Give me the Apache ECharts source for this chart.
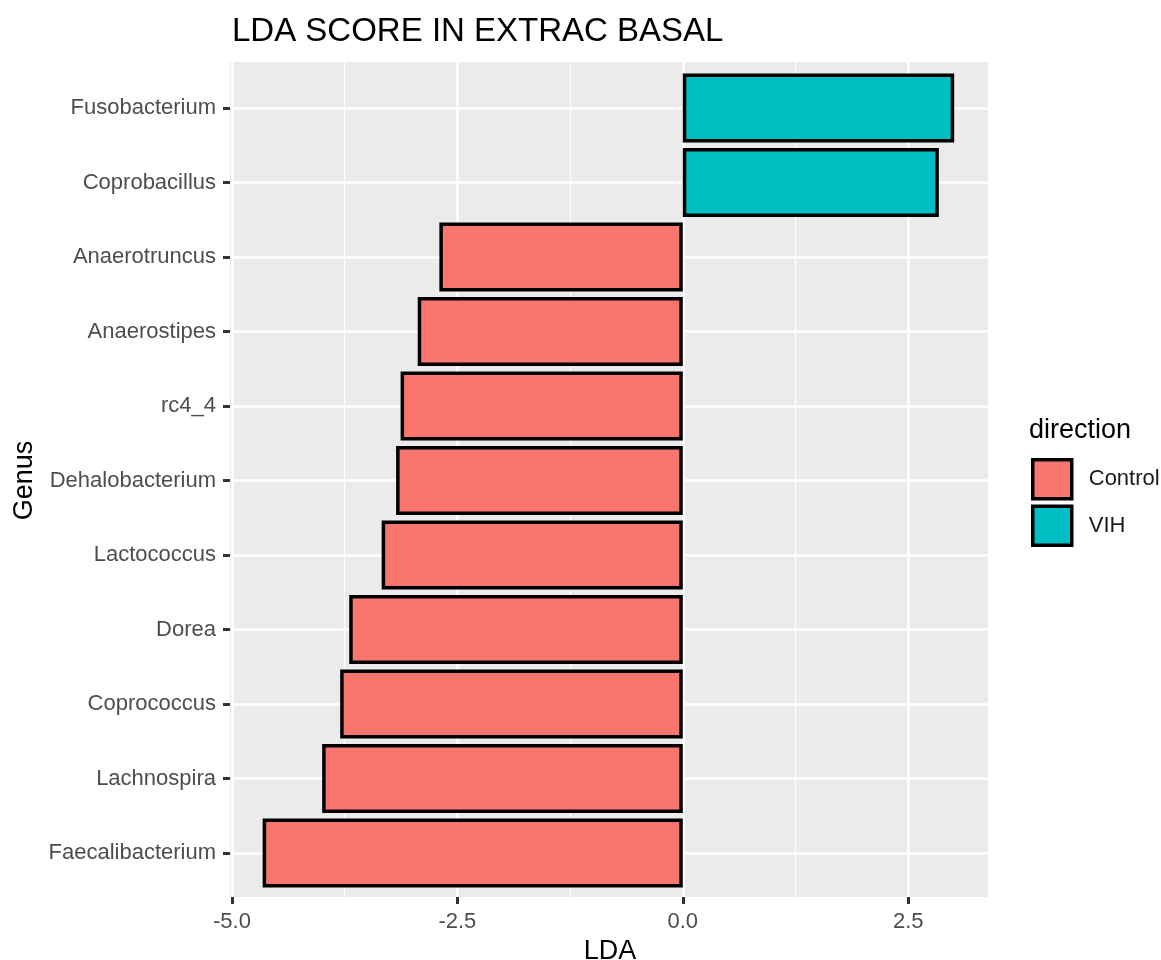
<!DOCTYPE html>
<html>
<head>
<meta charset="utf-8">
<title>LDA SCORE IN EXTRAC BASAL</title>
<script src="https://cdn.jsdelivr.net/npm/echarts@6/dist/echarts.min.js"></script>
<style>
  html, body { margin: 0; padding: 0; background: #ffffff; }
  #chart { width: 1161px; height: 960px; }
</style>
</head>
<body>
<div id="chart"></div>
<script>
// Genera, top to bottom, with their LDA score and enrichment group
const genus = ['Fusobacterium', 'Coprobacillus', 'Anaerotruncus', 'Anaerostipes', 'rc4_4',
  'Dehalobacterium', 'Lactococcus', 'Dorea', 'Coprococcus', 'Lachnospira', 'Faecalibacterium'];
const lda = [3.01, 2.84, -2.70, -2.94, -3.13, -3.18, -3.34, -3.70, -3.80, -4.00, -4.66];
const direction = ['VIH', 'VIH', 'Control', 'Control', 'Control', 'Control', 'Control',
  'Control', 'Control', 'Control', 'Control'];
const groups = ['Control', 'VIH'];
const groupColors = { Control: '#F8766D', VIH: '#00BFC4' };

// x scale limits (ggplot-style 5% expansion) and break spacing
const xMin = -5;
const xMax = 3.385;
const majorStep = 2.5;
const minorStep = 1.25;

const FONT = '"Liberation Sans", Arial, Helvetica, sans-serif';

// panel rectangle in pixels
const panel = { left: 230, right: 988, top: 62, bottom: 897 };
const W = 1161, H = 960;

const chart = echarts.init(document.getElementById('chart'), null, { renderer: 'canvas' });

const series = groups.map(g => ({
  name: g,
  type: 'bar',
  xAxisIndex: 2,
  yAxisIndex: 1,
  barWidth: 69,
  barGap: '-100%',
  clip: false,
  itemStyle: { color: groupColors[g], borderColor: '#000000', borderWidth: 3.5 },
  emphasis: { disabled: true },
  data: lda.map((v, i) => (direction[i] === g ? v : '-'))
}));

const option = {
  backgroundColor: '#ffffff',
  animation: false,
  textStyle: { fontFamily: FONT },
  title: [
    {
      text: 'LDA SCORE IN EXTRAC BASAL',
      left: 232, top: 15, padding: 0,
      textStyle: { fontFamily: FONT, fontSize: 33, fontWeight: 'normal', color: '#000000' }
    },
    {
      text: 'direction',
      left: 1029, top: 417, padding: 0,
      textStyle: { fontFamily: FONT, fontSize: 27, fontWeight: 'normal', color: '#000000' }
    }
  ],
  graphic: [
    {
      type: 'rect', z: -10, silent: true,
      shape: { x: panel.left, y: panel.top, width: panel.right - panel.left, height: panel.bottom - panel.top },
      style: { fill: '#EBEBEB' }
    }
  ],
  legend: {
    data: groups,
    orient: 'vertical',
    left: 1031, top: 458, padding: 0,
    itemWidth: 39, itemHeight: 39, itemGap: 4,
    icon: 'rect',
    selectedMode: false,
    itemStyle: { borderColor: '#000000', borderWidth: 3.5 },
    textStyle: { fontFamily: FONT, fontSize: 22, color: '#1A1A1A', padding: [0, 0, 0, 12] }
  },
  grid: [
    // full panel: carries the vertical grid lines and the x axis
    { left: 232, right: W - panel.right, top: panel.top, bottom: H - panel.bottom,
      containLabel: false, outerBoundsMode: 'none' },
    // category band: one row per genus, centred on tick positions
    { left: 232, right: W - panel.right, top: 108, bottom: H - 853,
      containLabel: false, outerBoundsMode: 'none' }
  ],
  xAxis: [
    {
      type: 'value', gridIndex: 0, min: xMin, max: xMax, interval: majorStep,
      position: 'bottom',
      name: 'LDA', nameLocation: 'middle', nameGap: 40,
      nameTextStyle: { fontFamily: FONT, fontSize: 27, color: '#000000' },
      axisLine: { show: false, onZero: false },
      axisTick: { show: true, length: 7, lineStyle: { color: '#333333', width: 3 } },
      axisLabel: {
        show: true, margin: 14, fontFamily: FONT, fontSize: 22, color: '#4D4D4D',
        showMaxLabel: false,
        formatter: v => (Math.abs(v / majorStep - Math.round(v / majorStep)) < 1e-9 ? v.toFixed(1) : '')
      },
      splitLine: { show: true, showMaxLine: false, lineStyle: { color: '#FFFFFF', width: 2.5 } }
    },
    {
      type: 'value', gridIndex: 0, min: xMin, max: xMax, interval: minorStep,
      axisLine: { show: false, onZero: false }, axisTick: { show: false }, axisLabel: { show: false },
      splitLine: { show: true, showMaxLine: false, lineStyle: { color: '#FFFFFF', width: 1.2 } }
    },
    {
      type: 'value', gridIndex: 1, min: xMin, max: xMax, show: false,
      axisLine: { onZero: false },
      splitLine: { show: false }
    }
  ],
  yAxis: [
    { type: 'value', gridIndex: 0, show: false, min: 0, max: 1,
      axisLine: { onZero: false }, splitLine: { show: false } },
    {
      type: 'category', gridIndex: 1, data: genus, inverse: true, boundaryGap: false,
      position: 'left', offset: 2,
      name: 'Genus', nameLocation: 'middle', nameGap: 187, nameRotate: 90,
      nameTextStyle: { fontFamily: FONT, fontSize: 27, color: '#000000' },
      axisLine: { show: false, onZero: false },
      axisTick: { show: true, length: 7, interval: 0, lineStyle: { color: '#333333', width: 3 } },
      axisLabel: { show: true, interval: 0, margin: 14, fontFamily: FONT, fontSize: 22, color: '#4D4D4D' },
      splitLine: { show: true, interval: 0, lineStyle: { color: '#FFFFFF', width: 2.5 } }
    }
  ],
  series: series
};

chart.setOption(option);
</script>
</body>
</html>
